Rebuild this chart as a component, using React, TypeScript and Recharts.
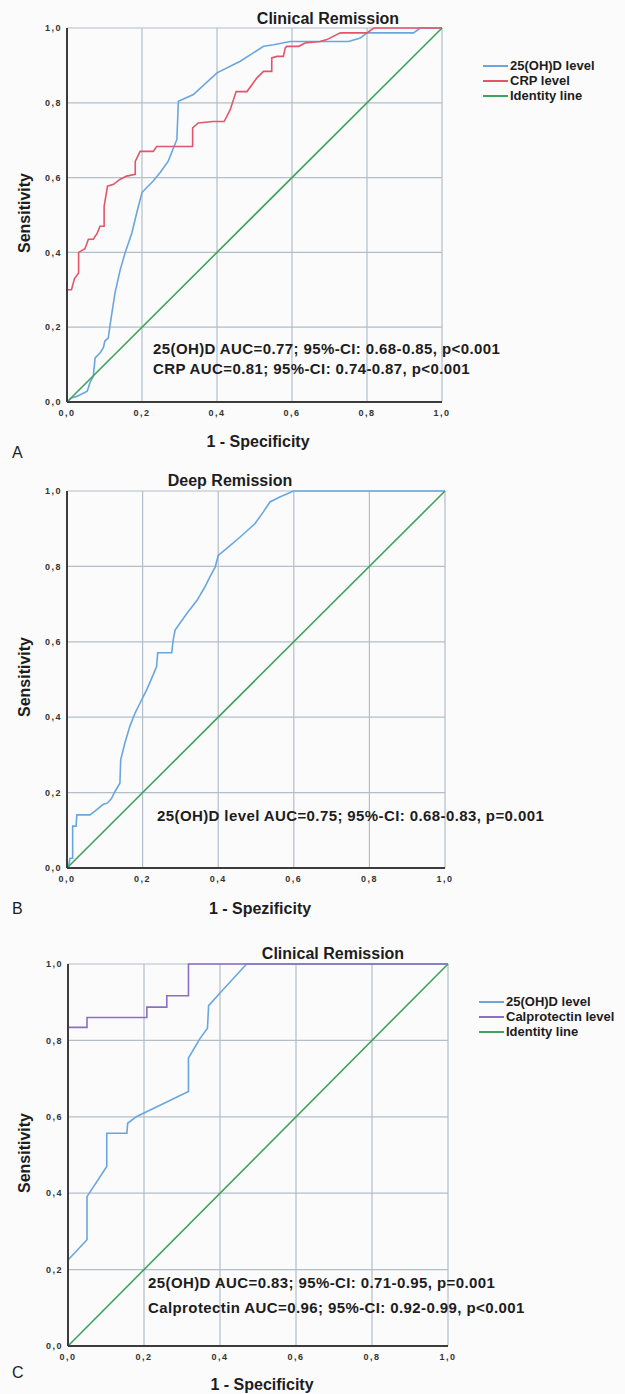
import React from "react";
import { CartesianGrid, Legend, Line, LineChart, XAxis, YAxis } from "recharts";

// ROC curves: [1 - specificity, sensitivity]
const vitDClinical: [number, number][] = [
  [0, 0], [0.012, 0.011], [0.026, 0.015], [0.054, 0.029], [0.061, 0.051], [0.07, 0.068],
  [0.075, 0.118], [0.088, 0.131], [0.097, 0.145], [0.101, 0.163], [0.11, 0.171], [0.115, 0.207],
  [0.128, 0.292], [0.142, 0.354], [0.155, 0.399], [0.173, 0.452], [0.186, 0.506], [0.2, 0.56],
  [0.212, 0.573], [0.23, 0.591], [0.248, 0.613], [0.27, 0.644], [0.293, 0.702], [0.297, 0.804],
  [0.337, 0.822], [0.4, 0.88], [0.462, 0.911], [0.524, 0.951], [0.551, 0.955], [0.595, 0.964],
  [0.675, 0.964], [0.751, 0.964], [0.782, 0.973], [0.8, 0.987], [0.924, 0.987], [0.942, 1], [1, 1],
];

const crpClinical: [number, number][] = [
  [0, 0], [0, 0.3], [0.012, 0.3], [0.02, 0.33], [0.031, 0.345], [0.031, 0.4], [0.048, 0.41],
  [0.057, 0.435], [0.07, 0.435], [0.08, 0.45], [0.088, 0.47], [0.099, 0.47], [0.099, 0.523],
  [0.108, 0.577], [0.124, 0.582], [0.141, 0.595], [0.159, 0.604], [0.182, 0.609], [0.182, 0.643],
  [0.195, 0.67], [0.23, 0.67], [0.239, 0.683], [0.335, 0.683], [0.335, 0.733], [0.35, 0.746],
  [0.39, 0.75], [0.419, 0.75], [0.435, 0.781], [0.451, 0.83], [0.48, 0.83], [0.506, 0.866],
  [0.524, 0.884], [0.546, 0.884], [0.546, 0.92], [0.56, 0.924], [0.577, 0.924], [0.582, 0.947],
  [0.586, 0.951], [0.618, 0.951], [0.635, 0.96], [0.675, 0.964], [0.693, 0.969], [0.729, 0.987],
  [0.8, 0.987], [0.818, 1], [1, 1],
];

const vitDDeep: [number, number][] = [
  [0, 0], [0.004, 0.004], [0.008, 0.026], [0.015, 0.026], [0.015, 0.111], [0.024, 0.111],
  [0.026, 0.141], [0.061, 0.141], [0.078, 0.154], [0.096, 0.169], [0.107, 0.172], [0.118, 0.185],
  [0.127, 0.203], [0.14, 0.225], [0.142, 0.287], [0.153, 0.331], [0.166, 0.375], [0.18, 0.411],
  [0.193, 0.437], [0.211, 0.473], [0.224, 0.503], [0.237, 0.534], [0.24, 0.571], [0.277, 0.571],
  [0.281, 0.605], [0.286, 0.631], [0.317, 0.675], [0.344, 0.71], [0.365, 0.746], [0.378, 0.772],
  [0.392, 0.798], [0.4, 0.829], [0.422, 0.847], [0.458, 0.878], [0.497, 0.913], [0.519, 0.944],
  [0.537, 0.971], [0.563, 0.984], [0.599, 1], [1, 1],
];

const vitDClinicalC: [number, number][] = [
  [0, 0], [0, 0.225], [0.05, 0.278], [0.05, 0.391], [0.102, 0.47], [0.102, 0.557], [0.155, 0.557],
  [0.157, 0.583], [0.181, 0.601], [0.317, 0.666], [0.317, 0.754], [0.348, 0.806], [0.367, 0.832],
  [0.37, 0.891], [0.4, 0.924], [0.47, 1], [1, 1],
];

const calproClinical: [number, number][] = [
  [0, 0], [0, 0.834], [0.05, 0.834], [0.05, 0.86], [0.2075, 0.86], [0.2075, 0.887], [0.26, 0.887],
  [0.26, 0.917], [0.317, 0.917], [0.317, 1], [1, 1],
];

const identity: [number, number][] = [[0, 0], [1, 1]];
const ticks = [0, 0.2, 0.4, 0.6, 0.8, 1];

const BLUE = "#6aa6de";
const RED = "#e2566a";
const GREEN = "#3ea35c";
const PURPLE = "#8b6fc4";
const FONT = '"Liberation Sans", Arial, sans-serif';

const toPts = (arr: [number, number][]) => arr.map(([x, y]) => ({ x, y }));
const fmt = (v: number) => v.toFixed(1).replace(".", ",");

const Txt = ({ x, y, children, size = 16, bold = true, rotate = false, anchor = "center" }: any) => (
  <div
    style={{
      position: "absolute",
      left: x,
      top: y,
      transform: `translate(${anchor === "center" ? "-50%" : "0"}, -50%)${rotate ? " rotate(-90deg)" : ""}`,
      fontFamily: FONT,
      fontSize: size,
      fontWeight: bold ? "bold" : "normal",
      color: "#1d1d1d",
      whiteSpace: "nowrap",
      letterSpacing: bold && size === 15 ? 0.4 : 0,
    }}
  >
    {children}
  </div>
);

const renderLegend = ({ payload }: any) => (
  <div>
    {(payload || []).map((p: any) => (
      <div key={p.value} style={{ display: "flex", alignItems: "center", height: 15 }}>
        <span style={{ display: "inline-block", width: 25, height: 2, background: p.color, marginRight: 2 }} />
        <span style={{ fontFamily: FONT, fontWeight: "bold", fontSize: 13, color: "#1d1d1d" }}>{p.value}</span>
      </div>
    ))}
  </div>
);

const tickStyle = { fontSize: 9, fontWeight: "bold", fill: "#333", fontFamily: FONT, letterSpacing: 1.5 };

type Series = { name: string; color: string; pts: [number, number][] };

const RocChart = ({ top, height, margin, yWidth, xHeight, series, legend }: any) => (
  <div style={{ position: "absolute", left: 0, top }}>
    <LineChart width={625} height={height} margin={margin}>
      <CartesianGrid stroke="#b3bec8" strokeWidth={1.2} />
      <XAxis
        type="number"
        dataKey="x"
        domain={[0, 1]}
        ticks={ticks}
        tickFormatter={fmt}
        height={xHeight}
        tickLine={false}
        axisLine={{ stroke: "#3c3c3c", strokeWidth: 2 }}
        tick={tickStyle}
      />
      <YAxis
        type="number"
        dataKey="y"
        domain={[0, 1]}
        ticks={ticks}
        tickFormatter={fmt}
        width={yWidth}
        tickLine={false}
        tickSize={3}
        tickMargin={2}
        axisLine={{ stroke: "#3c3c3c", strokeWidth: 2 }}
        tick={tickStyle}
      />
      {legend && (
        <Legend
          layout="vertical"
          align="center"
          verticalAlign="middle"
          content={renderLegend}
          wrapperStyle={{ left: legend.left, top: legend.top, width: 140 }}
        />
      )}
      {series.map((s: Series) => (
        <Line
          key={s.name}
          name={s.name}
          data={toPts(s.pts)}
          dataKey="y"
          type="linear"
          stroke={s.color}
          strokeWidth={1.6}
          dot={false}
          isAnimationActive={false}
          legendType={legend ? "line" : "none"}
        />
      ))}
    </LineChart>
  </div>
);

export default function App() {
  return (
    <div style={{ position: "absolute", left: 0, top: 0, width: 625, height: 1394, background: "#fbfbfc", overflow: "hidden" }}>
      {/* A */}
      <RocChart
        top={0}
        height={470}
        margin={{ top: 28, right: 183, bottom: 0, left: 0 }}
        yWidth={67}
        xHeight={68}
        legend={{ left: 483, top: 58 }}
        series={[
          { name: "25(OH)D level", color: BLUE, pts: vitDClinical },
          { name: "CRP level", color: RED, pts: crpClinical },
          { name: "Identity line", color: GREEN, pts: identity },
        ]}
      />
      <Txt x={328} y={19}>Clinical Remission</Txt>
      <Txt x={25} y={213} rotate>Sensitivity</Txt>
      <Txt x={258} y={442}>1 - Specificity</Txt>
      <Txt x={12} y={453} bold={false} anchor="left">A</Txt>
      <Txt x={153} y={348} size={15} anchor="left">25(OH)D AUC=0.77; 95%-CI: 0.68-0.85, p&lt;0.001</Txt>
      <Txt x={153} y={368} size={15} anchor="left">CRP AUC=0.81; 95%-CI: 0.74-0.87, p&lt;0.001</Txt>

      {/* B */}
      <RocChart
        top={470}
        height={460}
        margin={{ top: 21, right: 180, bottom: 0, left: 0 }}
        yWidth={67}
        xHeight={62}
        series={[
          { name: "25(OH)D level", color: BLUE, pts: vitDDeep },
          { name: "Identity line", color: GREEN, pts: identity },
        ]}
      />
      <Txt x={230} y={481}>Deep Remission</Txt>
      <Txt x={25} y={677} rotate>Sensitivity</Txt>
      <Txt x={260} y={909}>1 - Spezificity</Txt>
      <Txt x={12} y={909} bold={false} anchor="left">B</Txt>
      <Txt x={157} y={815} size={15} anchor="left">25(OH)D level AUC=0.75; 95%-CI: 0.68-0.83, p=0.001</Txt>

      {/* C */}
      <RocChart
        top={930}
        height={464}
        margin={{ top: 34, right: 177, bottom: 0, left: 0 }}
        yWidth={68}
        xHeight={48}
        legend={{ left: 479, top: 64 }}
        series={[
          { name: "25(OH)D level", color: BLUE, pts: vitDClinicalC },
          { name: "Calprotectin level", color: PURPLE, pts: calproClinical },
          { name: "Identity line", color: GREEN, pts: identity },
        ]}
      />
      <Txt x={333} y={954}>Clinical Remission</Txt>
      <Txt x={25} y={1153} rotate>Sensitivity</Txt>
      <Txt x={262} y={1385}>1 - Specificity</Txt>
      <Txt x={12} y={1373} bold={false} anchor="left">C</Txt>
      <Txt x={148} y={1282} size={15} anchor="left">25(OH)D AUC=0.83; 95%-CI: 0.71-0.95, p=0.001</Txt>
      <Txt x={148} y={1307} size={15} anchor="left">Calprotectin AUC=0.96; 95%-CI: 0.92-0.99, p&lt;0.001</Txt>
    </div>
  );
}
